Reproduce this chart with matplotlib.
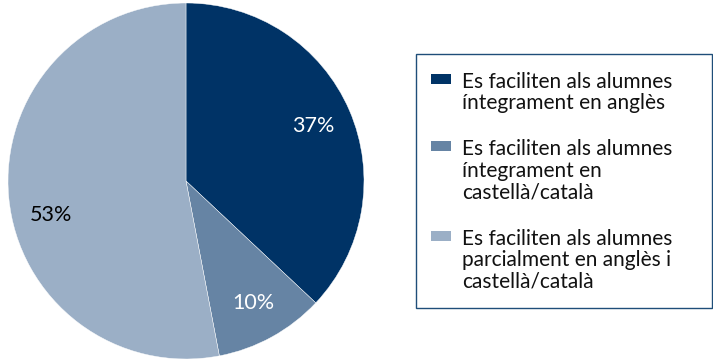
import matplotlib.pyplot as plt
from matplotlib.patches import Rectangle

plt.rcParams['font.family'] = ['Lato', 'DejaVu Sans']

labels = ['Es faciliten als alumnes\níntegrament en anglès',
          'Es faciliten als alumnes\níntegrament en\ncastellà/català',
          'Es faciliten als alumnes\nparcialment en anglès i\ncastellà/català']
shares = [37, 10, 53]
colors = ['#003366', '#6684a4', '#9bafc6']
pct_colors = ['white', 'white', 'black']

W, H = 713, 359
fig = plt.figure(figsize=(W / 100, H / 100), dpi=100)

# pie on the left half
ax = fig.add_axes([8 / W, 0.0, 356 / W, 356 / H])
wedges, texts, autotexts = ax.pie(
    shares, colors=colors, startangle=90, counterclock=False,
    autopct=lambda p: f'{round(p)}%', pctdistance=0.78,
    wedgeprops=dict(edgecolor='white', linewidth=0.3),
    textprops=dict(fontsize=15.5))
for t, c in zip(autotexts, pct_colors):
    t.set_color(c)
# nudge the big slice label downward a little
x, y = autotexts[2].get_position()
autotexts[2].set_position((x + 0.02, y - 0.12))
ax.set_xlim(-1.0, 1.0)
ax.set_ylim(-1.0, 1.0)
ax.set_aspect('equal')
ax.axis('off')

# legend box drawn in pixel terms
def fx(px):
    return px / W

def fy(py):
    return 1 - py / H

fig.patches.append(Rectangle((fx(416), fy(308)), fx(713) - fx(416) - 0.001,
                             fy(54) - fy(308), transform=fig.transFigure,
                             fill=False, edgecolor='#1f4e79', linewidth=1.0))

line_h = 22.4
top = 72.0
for lab, col in zip(labels, colors):
    fig.patches.append(Rectangle((fx(431), fy(top + 12)), fx(20), 10 / H,
                                 transform=fig.transFigure, facecolor=col,
                                 edgecolor='none'))
    fig.text(fx(462), fy(top), lab, fontsize=15, va='top', ha='left',
             linespacing=1.09, color='#111111')
    top += (lab.count('\n') + 2) * line_h

fig.savefig('out.png', dpi=100)
